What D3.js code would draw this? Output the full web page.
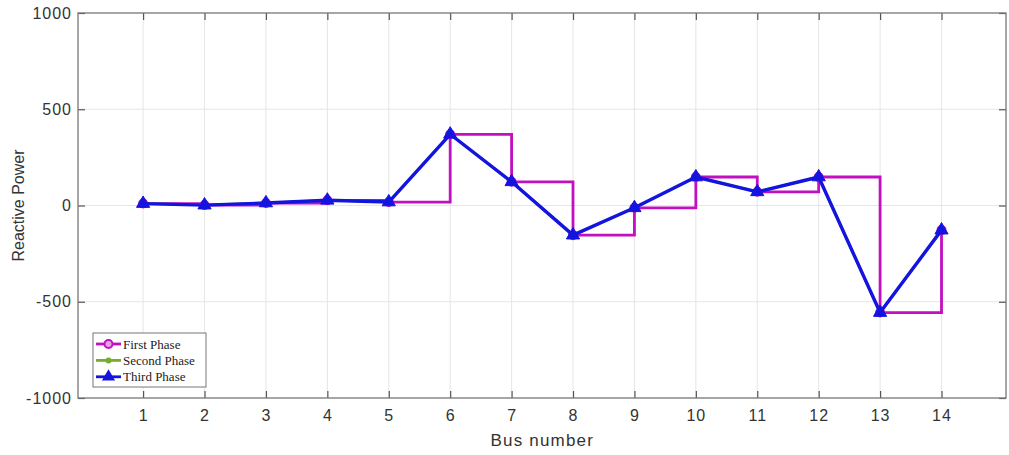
<!DOCTYPE html>
<html>
<head>
<meta charset="utf-8">
<script src="https://cdn.jsdelivr.net/npm/d3@7"></script>
<style>
  html, body { margin: 0; padding: 0; background: #fff; }
  svg { display: block; }
</style>
</head>
<body>
<svg id="chart" width="1009" height="455"></svg>
<script>
// Bus numbers and reactive power per phase
const buses = [1, 2, 3, 4, 5, 6, 7, 8, 9, 10, 11, 12, 13, 14];
const firstPhase  = [10, 2, 13, 27, 18, 370, 123, -154, -12, 148, 71, 148, -556, -128];
const secondPhase = [10, 2, 13, 27, 18, 370, 123, -154, -12, 148, 71, 148, -556, -128];
const thirdPhase  = [10, 2, 13, 27, 18, 370, 123, -154, -12, 148, 71, 148, -556, -128];
const yTicks = [-1000, -500, 0, 500, 1000];
const legendLabels = ["First Phase", "Second Phase", "Third Phase"];

const svg = d3.select("#chart");
const plotLeft = 78, plotRight = 1006, plotTop = 13, plotBottom = 398;

const x = d3.scaleLinear().domain([-0.06, 15.05]).range([plotLeft, plotRight]);
const y = d3.scaleLinear().domain([-1000, 1000]).range([plotBottom, plotTop]);

const sans = "'Liberation Sans', Arial, sans-serif";

// grid
const grid = svg.append("g");
grid.selectAll("line.v").data(buses).join("line").attr("class", "v")
  .attr("x1", d => x(d)).attr("x2", d => x(d))
  .attr("y1", plotTop).attr("y2", plotBottom)
  .attr("stroke", "#e6e6e6").attr("stroke-width", 1);
grid.selectAll("line.h").data(yTicks.slice(1, -1)).join("line").attr("class", "h")
  .attr("y1", d => y(d)).attr("y2", d => y(d))
  .attr("x1", plotLeft).attr("x2", plotRight)
  .attr("stroke", "#e6e6e6").attr("stroke-width", 1);

// axes with inward ticks on all four sides
const tickStyle = g => {
  g.select(".domain").remove();
  g.selectAll(".tick line").attr("stroke", "#555").attr("stroke-width", 1.2);
  g.selectAll(".tick text").attr("fill", "#333")
    .style("font-family", sans).style("font-size", "16px").style("letter-spacing", "1px");
};
const plain = d => String(d);
svg.append("g").attr("transform", `translate(0,${plotBottom})`)
  .call(d3.axisBottom(x).tickValues(buses).tickSizeInner(-7).tickPadding(12).tickFormat(plain))
  .call(tickStyle);
svg.append("g").attr("transform", `translate(0,${plotTop})`)
  .call(d3.axisTop(x).tickValues(buses).tickSizeInner(-7).tickFormat(""))
  .call(tickStyle);
svg.append("g").attr("transform", `translate(${plotLeft},0)`)
  .call(d3.axisLeft(y).tickValues(yTicks).tickSizeInner(-7).tickPadding(6).tickFormat(plain))
  .call(tickStyle);
svg.append("g").attr("transform", `translate(${plotRight},0)`)
  .call(d3.axisRight(y).tickValues(yTicks).tickSizeInner(-7).tickFormat(""))
  .call(tickStyle);

// frame
svg.append("rect").attr("x", plotLeft).attr("y", plotTop)
  .attr("width", plotRight - plotLeft).attr("height", plotBottom - plotTop)
  .attr("fill", "none").attr("stroke", "#777").attr("stroke-width", 1.3);

// axis titles
svg.append("text").attr("x", x(7.5)).attr("y", 446)
  .attr("text-anchor", "middle").attr("fill", "#333")
  .style("font-family", sans).style("font-size", "17px").style("letter-spacing", "1.2px")
  .text("Bus number");
svg.append("text").attr("transform", `translate(24,${y(0)}) rotate(-90)`)
  .attr("text-anchor", "middle").attr("fill", "#333")
  .style("font-family", sans).style("font-size", "16px")
  .text("Reactive Power");

const magenta = "#c010c0", green = "#77ac30", blue = "#1414e0";

// first phase: stairs
const step = d3.line().x((d, i) => x(buses[i])).y(d => y(d)).curve(d3.curveStepAfter);
svg.append("path").datum(firstPhase).attr("d", step)
  .attr("fill", "none").attr("stroke", magenta).attr("stroke-width", 2.8);
svg.append("g").selectAll("circle").data(firstPhase).join("circle")
  .attr("cx", (d, i) => x(buses[i])).attr("cy", d => y(d)).attr("r", 4)
  .attr("fill", "none").attr("stroke", magenta).attr("stroke-width", 2);

// second phase
const straight = d3.line().x((d, i) => x(buses[i])).y(d => y(d));
svg.append("path").datum(secondPhase).attr("d", straight)
  .attr("fill", "none").attr("stroke", green).attr("stroke-width", 2.5);
svg.append("g").selectAll("circle").data(secondPhase).join("circle")
  .attr("cx", (d, i) => x(buses[i])).attr("cy", d => y(d)).attr("r", 3)
  .attr("fill", green);

// third phase
svg.append("path").datum(thirdPhase).attr("d", straight)
  .attr("fill", "none").attr("stroke", blue).attr("stroke-width", 3.4)
  .attr("stroke-linejoin", "round");
const tri = d3.symbol().type(d3.symbolTriangle).size(75);
svg.append("g").selectAll("path").data(thirdPhase).join("path")
  .attr("d", tri)
  .attr("transform", (d, i) => `translate(${x(buses[i])},${y(d)})`)
  .attr("fill", blue).attr("stroke", blue).attr("stroke-width", 1);

// legend
const lg = svg.append("g");
lg.append("rect").attr("x", 93).attr("y", 333).attr("width", 113).attr("height", 54)
  .attr("fill", "#fff").attr("stroke", "#777").attr("stroke-width", 1);
const rows = [
  { label: legendLabels[0], color: magenta, kind: "circle" },
  { label: legendLabels[1], color: green, kind: "dot" },
  { label: legendLabels[2], color: blue, kind: "tri" }
];
rows.forEach((r, i) => {
  const cy = 344 + i * 16.4;
  lg.append("line").attr("x1", 96).attr("x2", 121).attr("y1", cy).attr("y2", cy)
    .attr("stroke", r.color).attr("stroke-width", 2.8);
  if (r.kind === "circle") {
    lg.append("circle").attr("cx", 108.5).attr("cy", cy).attr("r", 4)
      .attr("fill", "#e8a0e8").attr("stroke", r.color).attr("stroke-width", 2);
  } else if (r.kind === "dot") {
    lg.append("circle").attr("cx", 108.5).attr("cy", cy).attr("r", 3).attr("fill", r.color);
  } else {
    lg.append("path").attr("d", tri).attr("transform", `translate(108.5,${cy})`)
      .attr("fill", r.color);
  }
  lg.append("text").attr("x", 123).attr("y", cy + 4.5)
    .attr("fill", "#222")
    .style("font-family", "'Liberation Serif', 'Times New Roman', serif").style("font-size", "13px")
    .text(r.label);
});
</script>
</body>
</html>
